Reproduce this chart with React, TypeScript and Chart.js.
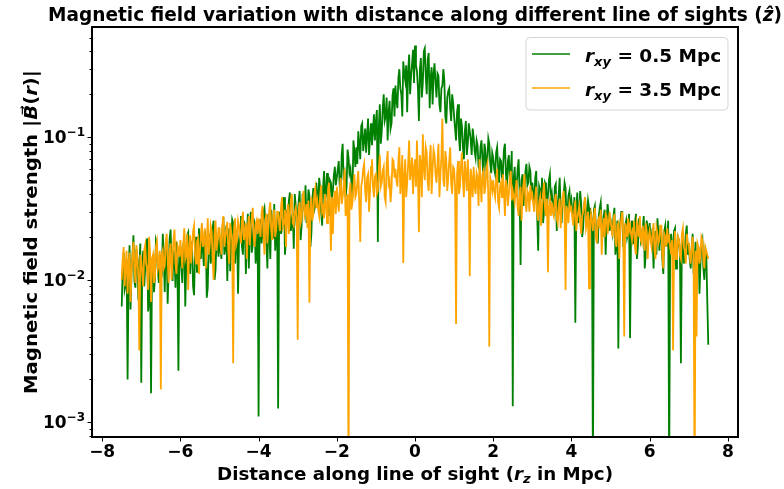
import React, { useEffect, useRef } from 'react';
import { Chart, registerables } from 'chart.js';

Chart.register(...registerables);

// ---- data ----
const X_START = -7.5;
const X_STEP = 0.025;
const X_TICKS = [-8, -6, -4, -2, 0, 2, 4, 6, 8];
const Y_TICKS = [1e-3, 1e-2, 1e-1];
const Y_TICK_EXP = ['−3', '−2', '−1'];
const X_MIN = -8.26;
const X_MAX = 8.26;
const Y_MIN = 7.9e-4;
const Y_MAX = 0.593;

const SERIES_RXY = ['0.5', '3.5'];
const SERIES_COLORS = ['#008000', '#FFA500'];

// |B| along the line of sight, r_xy = 0.5 Mpc
const GREEN_B = [
  .0065,.0120,.0155,.0085,.0092,.0140,.0020,.0105,.0175,.0062,.0110,.0150,.0205,.0098,.0088,.0165,.0140,.0072,.0125,.0180,
  .0019,.0135,.0160,.0090,.0118,.0170,.0195,.0060,.0072,.0140,.0016,.0125,.0150,.0082,.0102,.0190,.0178,.0115,.0095,.0150,
  .0135,.0105,.0210,.0150,.0082,.0175,.0160,.0068,.0120,.0195,.0225,.0130,.0098,.0160,.0145,.0088,.0185,.0125,.0023,.0170,
  .0150,.0120,.0095,.0175,.0190,.0065,.0128,.0205,.0215,.0140,.0110,.0185,.0165,.0090,.0078,.0158,.0200,.0112,.0138,.0230,
  .0175,.0140,.0240,.0160,.0125,.0220,.0195,.0075,.0088,.0180,.0210,.0130,.0152,.0230,.0260,.0100,.0118,.0200,.0185,.0145,
  .0205,.0160,.0140,.0225,.0275,.0150,.0168,.0240,.0098,.0190,.0230,.0115,.0185,.0265,.0250,.0145,.0130,.0200,.0215,.0080,
  .0190,.0225,.0280,.0170,.0150,.0260,.0235,.0110,.0205,.0290,.0120,.0215,.0300,.0155,.0175,.0270,.0245,.0130,.0160,.0250,
  .0011,.0230,.0265,.0180,.0210,.0300,.0320,.0250,.0185,.0120,.0290,.0210,.0140,.0310,.0245,.0195,.0340,.0160,.0220,.0280,
  .00125,.0260,.0300,.0210,.0235,.0330,.0380,.0150,.0195,.0310,.0270,.0360,.0410,.0220,.0250,.0290,.0165,.0400,.0330,.0240,
  .0290,.0350,.0420,.0190,.0240,.0400,.0355,.0300,.0460,.0250,.0280,.0430,.0390,.0170,.0210,.0370,.0440,.0310,.0330,.0480,
  .0400,.0330,.0520,.0440,.0300,.0240,.0450,.0580,.0360,.0410,.0560,.0350,.0280,.0500,.0480,.0380,.0420,.0540,.0620,.0460,
  .0520,.0600,.0680,.0450,.0400,.0750,.0900,.0500,.0550,.0380,.0450,.0820,.0720,.0560,.0600,.0480,.0380,.0950,.0800,.0620,
  .0850,.0650,.1100,.0900,.0700,.1200,.1250,.0800,.0950,.1150,.0780,.1050,.1350,.0750,.1000,.1250,.0880,.1100,.1450,.0950,
  .1300,.1550,.0184,.1200,.1700,.0900,.1100,.1600,.2000,.1300,.1400,.1900,.0950,.1500,.1800,.1150,.1250,.1950,.2200,.1400,
  .2300,.1800,.1600,.2600,.3000,.2200,.2000,.1400,.3400,.2800,.2500,.3200,.1500,.2900,.3800,.2000,.2700,.3300,.4100,.2400,
  .4400,.3200,.2900,.2200,.1300,.3000,.3600,.1900,.2400,.4000,.4200,.2700,.2000,.3500,.3900,.1600,.2600,.3100,.1700,.2800,
  .3300,.2400,.1900,.2800,.2700,.1700,.1500,.2200,.2300,.3000,.2500,.1400,.1250,.1900,.2100,.2200,.1600,.1300,.2000,.1750,
  .1400,.1150,.0950,.1500,.1700,.1000,.0800,.1350,.1200,.0850,.0700,.1100,.1300,.0750,.0900,.1250,.1100,.0950,.0750,.1150,
  .1000,.0800,.0720,.0950,.0880,.0620,.0600,.0850,.0950,.0700,.0500,.0900,.0820,.0580,.0680,.0980,.0900,.0650,.0560,.0780,
  .0720,.0600,.0550,.0780,.0850,.0620,.0480,.0700,.0680,.0520,.0600,.0820,.0900,.0550,.0450,.0680,.0750,.0500,.0580,.0800,
  .0013,.0520,.0620,.0380,.0450,.0600,.0700,.0420,.0127,.0500,.0550,.0330,.0400,.0580,.0650,.0460,.0480,.0620,.0580,.0400,
  .0480,.0400,.0350,.0520,.0580,.0280,.0160,.0450,.0420,.0370,.0520,.0250,.0300,.0480,.0460,.0330,.0390,.0500,.0550,.0360,
  .0400,.0330,.0280,.0450,.0470,.0220,.0340,.0400,.0520,.0310,.0250,.0360,.0380,.0480,.0440,.0270,.0300,.0390,.0420,.0320,
  .0360,.0300,.0270,.0380,.0050,.0320,.0410,.0250,.0300,.0420,.0340,.0200,.0230,.0330,.0380,.0260,.0290,.0360,.0320,.0240,
  .0300,.0260,.0004,.0310,.0330,.0240,.0220,.0180,.0280,.0320,.0350,.0230,.0200,.0280,.0310,.0150,.0250,.0340,.0290,.0220,
  .0270,.0230,.0210,.0280,.0320,.0150,.0180,.0260,.0033,.0220,.0250,.0300,.0300,.0170,.0190,.0240,.0260,.0200,.0220,.0290,
  .0039,.0220,.0260,.0180,.0200,.0250,.0290,.0140,.0170,.0270,.0240,.0190,.0210,.0230,.0280,.0120,.0150,.0260,.0230,.0200,
  .0250,.0200,.0180,.0230,.0120,.0190,.0220,.0150,.0270,.0210,.0160,.0240,.0210,.0140,.0110,.0220,.0240,.0170,.0190,.0260,
  .0004,.0180,.0210,.0150,.0170,.0220,.0230,.0120,.0140,.0200,.0190,.0160,.0026,.0190,.0200,.0130,.0160,.0210,.0240,.0150,
  .0180,.0140,.0120,.0165,.0210,.0110,.0140,.0185,.0090,.0150,.0170,.0080,.0130,.0175,.0190,.0120,.0100,.0160,.0150,.0070,
  .0035,
];

// |B| along the line of sight, r_xy = 3.5 Mpc
const ORANGE_B = [
  .0100,.0140,.0170,.0090,.0125,.0160,.0080,.0130,.0155,.0070,.0110,.0150,.0185,.0120,.0095,.0175,.0140,.0105,.0032,.0150,
  .0135,.0110,.0090,.0160,.0175,.0130,.0120,.0085,.0200,.0155,.0070,.0140,.0150,.0095,.0105,.0170,.0185,.0120,.0130,.0160,
  .0017,.0150,.0160,.0120,.0125,.0185,.0210,.0140,.0095,.0160,.0180,.0100,.0140,.0195,.0225,.0130,.0110,.0175,.0165,.0145,
  .0190,.0155,.0120,.0180,.0230,.0140,.0150,.0210,.0085,.0165,.0205,.0130,.0170,.0220,.0240,.0150,.0130,.0185,.0195,.0110,
  .0160,.0200,.0250,.0170,.0190,.0230,.0120,.0180,.0270,.0150,.0175,.0240,.0220,.0140,.0100,.0210,.0260,.0160,.0185,.0230,
  .0230,.0180,.0150,.0240,.0280,.0170,.0200,.0225,.0255,.0160,.0130,.0250,.0215,.0190,.0026,.0235,.0270,.0175,.0190,.0260,
  .0240,.0200,.0180,.0260,.0300,.0190,.0210,.0250,.0140,.0230,.0280,.0175,.0230,.0270,.0320,.0200,.0170,.0245,.0260,.0210,
  .0270,.0230,.0200,.0290,.0330,.0210,.0150,.0260,.0290,.0180,.0240,.0310,.0350,.0220,.0190,.0280,.0310,.0200,.0225,.0300,
  .0300,.0250,.0220,.0330,.0380,.0240,.0260,.0310,.0170,.0290,.0340,.0210,.0280,.0360,.0400,.0250,.0240,.0300,.0320,.0270,
  .0038,.0310,.0350,.0250,.0270,.0370,.0420,.0280,.0300,.0340,.0230,.0360,.0069,.0300,.0380,.0260,.0290,.0400,.0440,.0320,
  .0360,.0310,.0280,.0390,.0460,.0300,.0320,.0270,.0400,.0350,.0250,.0430,.0480,.0330,.0160,.0380,.0210,.0360,.0420,.0290,
  .0450,.0360,.0300,.0420,.0520,.0340,.0380,.0460,.0600,.0280,.0330,.0400,.0003,.0420,.0480,.0310,.0350,.0450,.0550,.0380,
  .0400,.0480,.0580,.0340,.0184,.0450,.0500,.0600,.0650,.0420,.0350,.0520,.0550,.0300,.0420,.0620,.0700,.0450,.0380,.0530,
  .0550,.0400,.0420,.0600,.0750,.0450,.0480,.0580,.0620,.0380,.0350,.0650,.0800,.0470,.0500,.0350,.0440,.0700,.0680,.0520,
  .0600,.0500,.0450,.0680,.0850,.0400,.0520,.0750,.0131,.0550,.0700,.0380,.0480,.0650,.0950,.0500,.0580,.0720,.0400,.0600,
  .0700,.0450,.0950,.0550,.0216,.0750,.0650,.0380,.1050,.0620,.0500,.0850,.0780,.0480,.0420,.0700,.0880,.0400,.0600,.0820,
  .0750,.0550,.0480,.0650,.0900,.0380,.0550,.0720,.1350,.0500,.0450,.0800,.0700,.0420,.0520,.0680,.0850,.0480,.0400,.0620,
  .0600,.0450,.0049,.0550,.0680,.0400,.0450,.0620,.0780,.0500,.0380,.0680,.0550,.0420,.0700,.0480,.0106,.0600,.0500,.0380,
  .0620,.0450,.0400,.0560,.0520,.0330,.0700,.0480,.0350,.0550,.0580,.0400,.0450,.0600,.0650,.0380,.0034,.0520,.0480,.0420,
  .0500,.0420,.0380,.0500,.0600,.0350,.0320,.0450,.0480,.0380,.0550,.0420,.0280,.0500,.0450,.0330,.0400,.0520,.0580,.0360,
  .0420,.0380,.0350,.0440,.0500,.0320,.0280,.0400,.0450,.0260,.0380,.0470,.0550,.0340,.0300,.0420,.0400,.0300,.0460,.0380,
  .0400,.0340,.0300,.0380,.0450,.0290,.0260,.0350,.0380,.0240,.0330,.0400,.0480,.0310,.0280,.0370,.0113,.0330,.0360,.0280,
  .0350,.0300,.0280,.0360,.0400,.0270,.0250,.0320,.0370,.0230,.0310,.0380,.0420,.0290,.0085,.0330,.0300,.0250,.0340,.0310,
  .0320,.0270,.0240,.0310,.0360,.0220,.0270,.0300,.0330,.0250,.0210,.0280,.0300,.0340,.0380,.0230,.0250,.0300,.0087,.0260,
  .0290,.0250,.0220,.0280,.0320,.0200,.0180,.0260,.0270,.0230,.0310,.0150,.0230,.0270,.0200,.0290,.0280,.0210,.0240,.0300,
  .0260,.0230,.0200,.0260,.0290,.0190,.0170,.0240,.0250,.0140,.0220,.0270,.0300,.0210,.0040,.0250,.0230,.0200,.0270,.0220,
  .0240,.0210,.0190,.0230,.0260,.0170,.0150,.0250,.0230,.0200,.0280,.0190,.0180,.0240,.0210,.0160,.0250,.0220,.0140,.0200,
  .0220,.0190,.0170,.0210,.0250,.0160,.0140,.0230,.0210,.0180,.0190,.0240,.0240,.0150,.0120,.0210,.0200,.0170,.0230,.0190,
  .0200,.0170,.0150,.0190,.0032,.0160,.0220,.0140,.0170,.0200,.0190,.0150,.0140,.0210,.0230,.0170,.0160,.0130,.0210,.0180,
  .0180,.0150,.0130,.0170,.0200,.0140,.0003,.0160,.0040,.0180,.0170,.0130,.0150,.0200,.0190,.0140,.0120,.0170,.0160,.0150,
  .0140,
];

// ---- text helpers ----
type Seg = { t: string; italic?: boolean; size: number; dy?: number };
const FAMILY = '"DejaVu Sans", sans-serif';
const segFont = (s: Seg) => `${s.italic ? 'italic ' : ''}bold ${s.size}px ${FAMILY}`;

function measureSegs(ctx: CanvasRenderingContext2D, segs: Seg[]) {
  let w = 0;
  for (const s of segs) {
    ctx.font = segFont(s);
    w += ctx.measureText(s.t).width;
  }
  return w;
}

function drawSegs(
  ctx: CanvasRenderingContext2D,
  segs: Seg[],
  x: number,
  y: number,
  align: 'left' | 'center' | 'right',
  targetW?: number
) {
  const w = measureSegs(ctx, segs);
  const sx = targetW ? targetW / w : 1;
  ctx.save();
  ctx.translate(x, y);
  ctx.scale(sx, 1);
  let cx = align === 'left' ? 0 : align === 'center' ? -w / 2 : -w;
  ctx.textAlign = 'left';
  ctx.textBaseline = 'alphabetic';
  ctx.fillStyle = '#000';
  for (const s of segs) {
    ctx.font = segFont(s);
    ctx.fillText(s.t, cx, s.dy || 0);
    cx += ctx.measureText(s.t).width;
  }
  ctx.restore();
}

const mplPlugin = {
  id: 'mplAxes',
  afterDraw(chart: any) {
    const { ctx, chartArea: a, scales } = chart;
    const xs = scales.x;
    const ys = scales.y;
    ctx.save();

    // ticks
    ctx.strokeStyle = '#000';
    ctx.lineWidth = 1;
    ctx.beginPath();
    for (const v of X_TICKS) {
      const px = Math.round(xs.getPixelForValue(v)) + 0.5;
      ctx.moveTo(px, a.bottom);
      ctx.lineTo(px, a.bottom + 4.5);
    }
    for (let e = -4; e <= 0; e++) {
      for (let m = 1; m <= 9; m++) {
        const v = m * Math.pow(10, e);
        if (v < Y_MIN || v > Y_MAX) continue;
        const py = Math.round(ys.getPixelForValue(v)) + 0.5;
        const len = m === 1 ? 4.5 : 2.5;
        ctx.moveTo(a.left, py);
        ctx.lineTo(a.left - len, py);
      }
    }
    ctx.stroke();

    // frame
    ctx.lineWidth = 2;
    ctx.strokeRect(a.left, a.top, a.right - a.left, a.bottom - a.top);

    // x tick labels
    for (const v of X_TICKS) {
      const px = xs.getPixelForValue(v);
      const txt = v < 0 ? '−' + Math.abs(v) : String(v);
      drawSegs(ctx, [{ t: txt, size: 17 }], px, 457, 'center');
    }
    // y tick labels
    Y_TICKS.forEach((v, i) => {
      const py = ys.getPixelForValue(v);
      drawSegs(
        ctx,
        [
          { t: '10', size: 17 },
          { t: Y_TICK_EXP[i], size: 12, dy: -7 },
        ],
        85,
        py + 6,
        'right'
      );
    });

    // title
    drawSegs(
      ctx,
      [
        { t: 'Magnetic field variation with distance along different line of sights (', size: 19.5 },
        { t: 'ẑ', italic: true, size: 19.5 },
        { t: ')', size: 19.5 },
      ],
      415,
      21,
      'center',
      734
    );

    // x label
    drawSegs(
      ctx,
      [
        { t: 'Distance along line of sight (', size: 18 },
        { t: 'r', italic: true, size: 18 },
        { t: 'z', italic: true, size: 13, dy: 3 },
        { t: ' in Mpc)', size: 18 },
      ],
      415,
      479.5,
      'center',
      396
    );

    // y label
    ctx.save();
    ctx.translate(37, (a.top + a.bottom) / 2);
    ctx.rotate(-Math.PI / 2);
    drawSegs(
      ctx,
      [
        { t: 'Magnetic field strength |', size: 18 },
        { t: 'B\u20D7', italic: true, size: 18 },
        { t: '(', size: 18 },
        { t: 'r', italic: true, size: 18 },
        { t: ')|', size: 18 },
      ],
      0,
      0,
      'center',
      324
    );
    ctx.restore();

    // legend
    const lx = 526, ly = 37.5, lw = 202, lh = 72.5, r = 4;
    ctx.beginPath();
    ctx.moveTo(lx + r, ly);
    ctx.arcTo(lx + lw, ly, lx + lw, ly + lh, r);
    ctx.arcTo(lx + lw, ly + lh, lx, ly + lh, r);
    ctx.arcTo(lx, ly + lh, lx, ly, r);
    ctx.arcTo(lx, ly, lx + lw, ly, r);
    ctx.closePath();
    ctx.fillStyle = 'rgba(255,255,255,0.8)';
    ctx.fill();
    ctx.strokeStyle = 'rgba(204,204,204,0.8)';
    ctx.lineWidth = 1;
    ctx.stroke();

    SERIES_RXY.forEach((val, i) => {
      const yy = 54 + i * 34;
      ctx.strokeStyle = SERIES_COLORS[i];
      ctx.lineWidth = 1.5;
      ctx.beginPath();
      ctx.moveTo(532, yy);
      ctx.lineTo(570, yy);
      ctx.stroke();
      drawSegs(
        ctx,
        [
          { t: 'r', italic: true, size: 18.5 },
          { t: 'xy', italic: true, size: 13, dy: 4 },
          { t: ' = ' + val + ' Mpc', size: 18.5 },
        ],
        585,
        yy + 7.5,
        'left'
      );
    });

    ctx.restore();
  },
};

const toPoints = (arr: number[]) => arr.map((v, i) => ({ x: X_START + i * X_STEP, y: v }));

export default function App() {
  const ref = useRef<HTMLCanvasElement | null>(null);
  useEffect(() => {
    document.body.style.margin = '0';
    const canvas = ref.current;
    if (!canvas) return;
    const chart = new Chart(canvas, {
      type: 'line',
      data: {
        datasets: [
          {
            label: 'r_xy = 0.5 Mpc',
            data: toPoints(GREEN_B),
            borderColor: SERIES_COLORS[0],
            borderWidth: 1.8,
            pointRadius: 0,
            tension: 0,
            fill: false,
            order: 1,
          },
          {
            label: 'r_xy = 3.5 Mpc',
            data: toPoints(ORANGE_B),
            borderColor: SERIES_COLORS[1],
            borderWidth: 1.8,
            pointRadius: 0,
            tension: 0,
            fill: false,
            order: 0,
          },
        ],
      },
      options: {
        responsive: false,
        animation: false,
        events: [],
        layout: { padding: { left: 92, right: 46, top: 27, bottom: 52 } },
        plugins: {
          legend: { display: false },
          tooltip: { enabled: false },
          title: { display: false },
        },
        scales: {
          x: { type: 'linear', min: X_MIN, max: X_MAX, display: false },
          y: { type: 'logarithmic', min: Y_MIN, max: Y_MAX, display: false },
        },
      },
      plugins: [mplPlugin],
    } as any);
    return () => chart.destroy();
  }, []);
  return (
    <div style={{ width: 784, height: 489, background: '#fff' }}>
      <canvas ref={ref} width={784} height={489} style={{ display: 'block' }} />
    </div>
  );
}
